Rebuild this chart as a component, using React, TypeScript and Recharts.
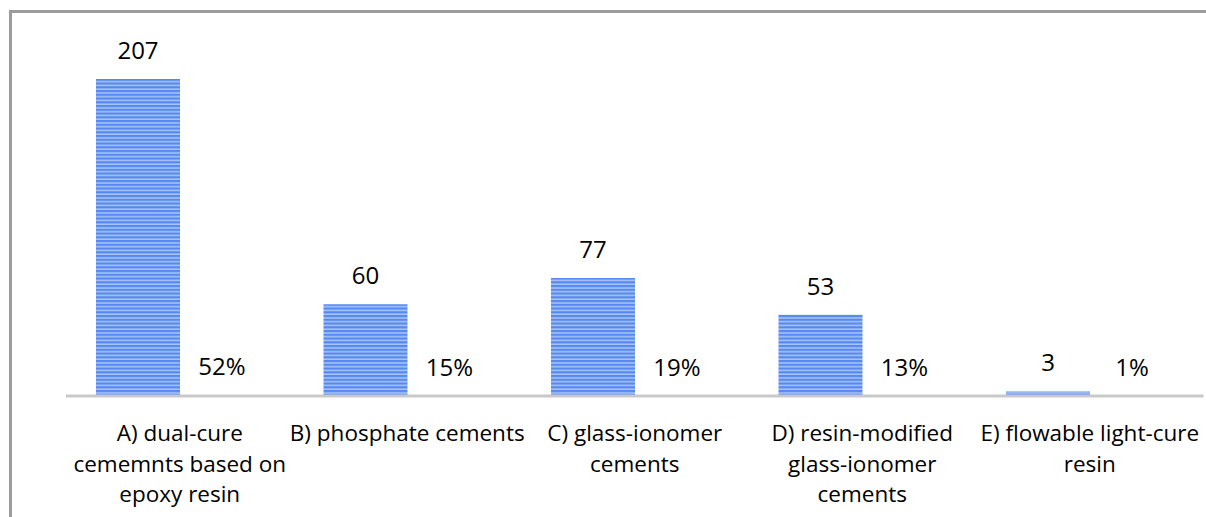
import { Bar, BarChart, XAxis, YAxis, LabelList } from "recharts"

const categories = [
  "A) dual-cure\ncememnts based on\nepoxy resin",
  "B) phosphate cements",
  "C) glass-ionomer\ncements",
  "D) resin-modified\nglass-ionomer\ncements",
  "E) flowable light-cure\nresin",
]
const counts = [207, 60, 77, 53, 3]
const shares = [0.52, 0.15, 0.19, 0.13, 0.01]

const data = categories.map((name, i) => ({
  name,
  count: counts[i],
  share: shares[i],
}))

const FONT = "'Open Sans', 'Liberation Sans', sans-serif"

function CategoryTick(props: any) {
  const { x, y, payload } = props
  const lines = String(payload.value).split("\n")
  return (
    <text x={x} y={y} textAnchor="middle" fontFamily={FONT} fontSize={22.5} fill="#000">
      {lines.map((line, i) => (
        <tspan key={i} x={x} y={y + 37 + i * 30.5}>
          {line}
        </tspan>
      ))}
    </text>
  )
}

export default function App() {
  return (
    <div
      style={{
        position: "absolute",
        left: 0,
        top: 0,
        width: 1206,
        height: 517,
        overflow: "hidden",
        background: "#fff",
      }}
    >
      <div
        style={{
          position: "absolute",
          left: 9,
          top: 10,
          width: 1300,
          height: 600,
          borderTop: "3px solid #9c9c9c",
          borderLeft: "3px solid #9c9c9c",
        }}
      />
      <div style={{ position: "absolute", left: 0, top: 0 }}>
        <BarChart
          width={1206}
          height={517}
          data={data}
          margin={{ top: 28.5, right: 2.5, bottom: 0, left: 66 }}
          barGap={0}
          barSize={84}
        >
          <defs>
            <pattern id="stripes" width="8" height="3.75" patternUnits="userSpaceOnUse">
              <rect x="0" y="0" width="8" height="3.75" fill="#5589f0" />
              <rect x="0" y="2.3" width="8" height="1.3" fill="#b9d0f9" />
            </pattern>
          </defs>
          <XAxis
            dataKey="name"
            height={121}
            tick={<CategoryTick />}
            tickLine={false}
            axisLine={{ stroke: "#c9c9c9", strokeWidth: 3 }}
            interval={0}
          />
          <YAxis hide domain={[0, 240]} />
          <Bar dataKey="count" fill="url(#stripes)" isAnimationActive={false}>
            <LabelList
              dataKey="count"
              position="top"
              offset={20}
              fontFamily={FONT}
              fontSize={24}
              fill="#000"
            />
          </Bar>
          <Bar dataKey="share" fill="none" isAnimationActive={false}>
            <LabelList
              dataKey="share"
              position="top"
              offset={20}
              fontFamily={FONT}
              fontSize={24}
              fill="#000"
              formatter={(v: any) => `${Math.round(Number(v) * 100)}%`}
            />
          </Bar>
        </BarChart>
      </div>
    </div>
  )
}
